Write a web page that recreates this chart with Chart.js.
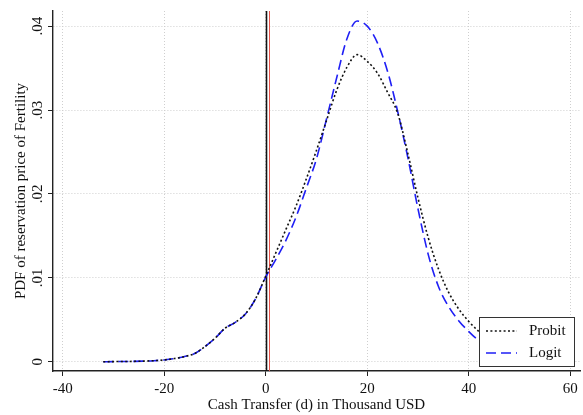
<!DOCTYPE html>
<html>
<head>
<meta charset="utf-8">
<style>
  html, body { margin: 0; padding: 0; background: #fff; }
  #wrap { width: 583px; height: 415px; }
</style>
<script src="https://cdn.jsdelivr.net/npm/chart.js@4"></script>
</head>
<body>
<div id="wrap"><canvas id="pdf" width="583" height="415"></canvas></div>
<script>
// Cash transfer grid (thousand USD)
const transfer = [-32, -30, -28, -26, -24, -22, -20, -18, -16, -14, -12, -10, -8, -6, -4, -2,
  0, 2, 4, 6, 8, 10, 12, 14, 16, 18, 20, 22, 24, 26, 28, 30, 32, 34, 36, 38, 40, 42, 44, 46, 48, 50];

// Density of the reservation price, probit model
const probit = [0, 0.00002, 0.00003, 0.00005, 0.00008, 0.00013, 0.00022, 0.00038, 0.00062, 0.00098, 0.0018, 0.0028, 0.0040, 0.0047, 0.0057, 0.0075,
  0.0102, 0.0130, 0.0158, 0.0186, 0.0218, 0.0252, 0.0288, 0.0324, 0.0351, 0.0366, 0.0358, 0.0344, 0.0321, 0.0296, 0.0248, 0.0195,
  0.0148, 0.0111, 0.0083, 0.0063, 0.0048, 0.0036, 0.0026, 0.0018, 0.0012, 0.0008];

// Density of the reservation price, logit model
const logit = [0, 0.00002, 0.00003, 0.00005, 0.00008, 0.00013, 0.00022, 0.00038, 0.00062, 0.00098, 0.0018, 0.0028, 0.0040, 0.0047, 0.0057, 0.0075,
  0.0101, 0.0122, 0.0145, 0.0173, 0.0207, 0.0242, 0.0290, 0.0339, 0.0385, 0.0406, 0.0400, 0.0380, 0.0346, 0.0298, 0.0243, 0.0182,
  0.0128, 0.0090, 0.0066, 0.0049, 0.0036, 0.0025, 0.0017, 0.0011, 0.0007, 0.0004];

const seriesNames = ['Probit', 'Logit'];
const xTicks = [-40, -20, 0, 20, 40, 60];
const yTicks = [0, 0.01, 0.02, 0.03, 0.04];
const zeroTransfer = 0;
const cutoffTransfer = 0.65;

const serif = '"Liberation Serif", "Times New Roman", serif';
Chart.defaults.font.family = serif;
Chart.defaults.font.size = 15;
Chart.defaults.color = '#111';

const toPoints = ys => transfer.map((x, i) => ({ x: x, y: ys[i] }));

// Vertical reference lines at zero and at the cutoff transfer
const referenceLines = {
  id: 'referenceLines',
  beforeDatasetsDraw(chart) {
    const { ctx, chartArea, scales } = chart;
    const draw = (value, color, width) => {
      const px = Math.round(scales.x.getPixelForValue(value)) + 0.5;
      ctx.save();
      ctx.strokeStyle = color;
      ctx.lineWidth = width;
      ctx.beginPath();
      ctx.moveTo(px, chartArea.top);
      ctx.lineTo(px, chartArea.bottom);
      ctx.stroke();
      ctx.restore();
    };
    draw(zeroTransfer, '#111', 1.6);
    draw(cutoffTransfer, '#e8534a', 1);
  }
};

// Boxed key in the lower right corner of the plot region
const boxedKey = {
  id: 'boxedKey',
  afterDatasetsDraw(chart) {
    const { ctx, chartArea } = chart;
    const w = 95, h = 49;
    const left = chartArea.right - 6 - w;
    const top = chartArea.bottom - 5 - h;
    ctx.save();
    ctx.fillStyle = '#fff';
    ctx.fillRect(left, top, w, h);
    ctx.strokeStyle = '#333';
    ctx.lineWidth = 1;
    ctx.strokeRect(Math.round(left) + 0.5, Math.round(top) + 0.5, w, h);
    chart.data.datasets.forEach((ds, i) => {
      const y = top + 14 + i * 22;
      ctx.strokeStyle = ds.borderColor;
      ctx.lineWidth = ds.borderWidth;
      ctx.setLineDash(ds.borderDash);
      ctx.beginPath();
      ctx.moveTo(left + 7, y);
      ctx.lineTo(left + 38, y);
      ctx.stroke();
      ctx.setLineDash([]);
      ctx.fillStyle = '#111';
      ctx.font = '15px ' + serif;
      ctx.textBaseline = 'middle';
      ctx.textAlign = 'left';
      ctx.fillText(ds.label, left + 50, y);
    });
    ctx.restore();
  }
};

new Chart(document.getElementById('pdf'), {
  type: 'line',
  data: {
    datasets: [
      {
        label: seriesNames[0],
        data: toPoints(probit),
        borderColor: '#111',
        borderWidth: 1.6,
        borderDash: [2, 2.4],
        pointRadius: 0,
        cubicInterpolationMode: 'monotone',
        fill: false
      },
      {
        label: seriesNames[1],
        data: toPoints(logit),
        borderColor: '#1f1ff5',
        borderWidth: 1.6,
        borderDash: [10, 5],
        pointRadius: 0,
        cubicInterpolationMode: 'monotone',
        fill: false
      }
    ]
  },
  options: {
    responsive: false,
    animation: false,
    devicePixelRatio: 1,
    layout: { padding: { top: 11, right: 3, left: 0, bottom: 0 } },
    plugins: {
      legend: { display: false },
      tooltip: { enabled: false }
    },
    scales: {
      x: {
        type: 'linear',
        min: -41.9,
        max: 61.9,
        afterBuildTicks: s => { s.ticks = xTicks.map(v => ({ value: v })); },
        afterFit: s => { s.height = 44; },
        ticks: {
          autoSkip: false,
          maxRotation: 0,
          padding: 4,
          color: '#111',
          callback: v => String(v)
        },
        grid: {
          color: '#cfcfcf',
          lineWidth: 1,
          tickLength: 5,
          tickColor: '#222',
          tickWidth: 1
        },
        border: { display: true, color: '#222', width: 1.4, dash: [1, 2] },
        title: {
          display: true,
          text: 'Cash Transfer (d) in Thousand USD',
          color: '#111',
          padding: { top: 0, bottom: 1 }
        }
      },
      y: {
        type: 'linear',
        min: -0.0011,
        max: 0.0418,
        afterBuildTicks: s => { s.ticks = yTicks.map(v => ({ value: v })); },
        afterFit: s => { s.width = 53; },
        ticks: {
          autoSkip: false,
          minRotation: 90,
          maxRotation: 90,
          crossAlign: 'center',
          padding: 1,
          color: '#111',
          callback: v => (v === 0 ? '0' : v.toFixed(2).slice(1))
        },
        grid: {
          color: '#cfcfcf',
          lineWidth: 1,
          tickLength: 5,
          tickColor: '#222',
          tickWidth: 1
        },
        border: { display: true, color: '#222', width: 1.4, dash: [1, 2] },
        title: {
          display: true,
          text: 'PDF of reservation price of Fertility',
          color: '#111',
          padding: { top: 12, bottom: 0 }
        }
      }
    }
  },
  plugins: [referenceLines, boxedKey]
});
</script>
</body>
</html>
